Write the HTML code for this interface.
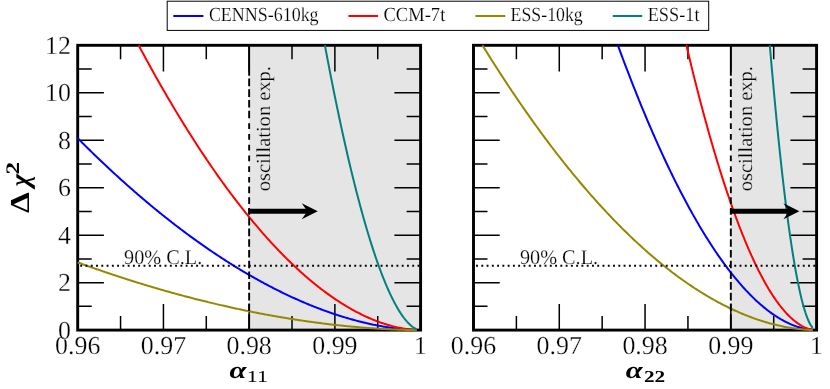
<!DOCTYPE html>
<html><head><meta charset="utf-8"><title>plot</title>
<style>html,body{margin:0;padding:0;background:#fff}svg{display:block;will-change:transform;opacity:0.999}text{text-rendering:geometricPrecision}.t{stroke:#fff;stroke-width:.28px}.ts{stroke:#fff;stroke-width:.2px}.tg{stroke:#e5e5e5;stroke-width:.2px}</style></head>
<body>
<svg width="830" height="389" viewBox="0 0 830 389" font-family="'Liberation Serif', serif" fill="#000">
<rect width="830" height="389" fill="#fff"/>
<rect x="249.15" y="45.30" width="171.45" height="284.80" fill="#e5e5e5"/>
<path d="M77.70,330.10h26.2M420.60,330.10h-26.2M77.70,306.37h14.0M420.60,306.37h-14.0M77.70,282.63h26.2M420.60,282.63h-26.2M77.70,258.90h14.0M420.60,258.90h-14.0M77.70,235.17h26.2M420.60,235.17h-26.2M77.70,211.43h14.0M420.60,211.43h-14.0M77.70,187.70h26.2M420.60,187.70h-26.2M77.70,163.97h14.0M420.60,163.97h-14.0M77.70,140.23h26.2M420.60,140.23h-26.2M77.70,116.50h14.0M420.60,116.50h-14.0M77.70,92.77h26.2M420.60,92.77h-26.2M77.70,69.03h14.0M420.60,69.03h-14.0M77.70,45.30h26.2M420.60,45.30h-26.2M77.70,330.10v-26.2M77.70,45.30v26.2M120.56,330.10v-14.0M120.56,45.30v14.0M163.43,330.10v-26.2M163.43,45.30v26.2M206.29,330.10v-14.0M206.29,45.30v14.0M249.15,330.10v-26.2M249.15,45.30v26.2M292.01,330.10v-14.0M292.01,45.30v14.0M334.88,330.10v-26.2M334.88,45.30v26.2M377.74,330.10v-14.0M377.74,45.30v14.0M420.60,330.10v-26.2M420.60,45.30v26.2" stroke="#000" stroke-width="1.5" fill="none"/>
<rect x="77.70" y="45.30" width="342.90" height="284.80" fill="none" stroke="#000" stroke-width="2.9"/>
<path d="M77.70,138.22 L78.76,139.29 L79.82,140.35 L80.88,141.41 L81.94,142.47 L83.00,143.52 L84.06,144.57 L85.12,145.62 L86.18,146.66 L87.24,147.71 L88.30,148.75 L89.35,149.79 L90.41,150.82 L91.47,151.85 L92.53,152.89 L93.59,153.91 L94.65,154.94 L95.71,155.96 L96.77,156.98 L97.83,158.00 L98.89,159.01 L99.95,160.02 L101.01,161.03 L102.07,162.04 L103.13,163.04 L104.19,164.04 L105.25,165.04 L106.31,166.03 L107.37,167.03 L108.43,168.02 L109.49,169.00 L110.54,169.99 L111.60,170.97 L112.66,171.95 L113.72,172.93 L114.78,173.90 L115.84,174.87 L116.90,175.84 L117.96,176.81 L119.02,177.77 L120.08,178.73 L121.14,179.69 L122.20,180.64 L123.26,181.60 L124.32,182.55 L125.38,183.49 L126.44,184.44 L127.50,185.38 L128.56,186.32 L129.62,187.26 L130.68,188.19 L131.73,189.12 L132.79,190.05 L133.85,190.97 L134.91,191.90 L135.97,192.82 L137.03,193.73 L138.09,194.65 L139.15,195.56 L140.21,196.47 L141.27,197.37 L142.33,198.28 L143.39,199.18 L144.45,200.08 L145.51,200.97 L146.57,201.87 L147.63,202.76 L148.69,203.64 L149.75,204.53 L150.81,205.41 L151.87,206.29 L152.93,207.16 L153.98,208.04 L155.04,208.91 L156.10,209.77 L157.16,210.64 L158.22,211.50 L159.28,212.36 L160.34,213.22 L161.40,214.07 L162.46,214.92 L163.52,215.77 L164.58,216.62 L165.64,217.46 L166.70,218.30 L167.76,219.14 L168.82,219.97 L169.88,220.80 L170.94,221.63 L172.00,222.46 L173.06,223.28 L174.12,224.10 L175.17,224.92 L176.23,225.73 L177.29,226.55 L178.35,227.35 L179.41,228.16 L180.47,228.96 L181.53,229.77 L182.59,230.56 L183.65,231.36 L184.71,232.15 L185.77,232.94 L186.83,233.73 L187.89,234.51 L188.95,235.29 L190.01,236.07 L191.07,236.84 L192.13,237.62 L193.19,238.39 L194.25,239.15 L195.31,239.92 L196.36,240.68 L197.42,241.44 L198.48,242.19 L199.54,242.94 L200.60,243.69 L201.66,244.44 L202.72,245.18 L203.78,245.92 L204.84,246.66 L205.90,247.40 L206.96,248.13 L208.02,248.86 L209.08,249.58 L210.14,250.31 L211.20,251.03 L212.26,251.75 L213.32,252.46 L214.38,253.17 L215.44,253.88 L216.50,254.59 L217.55,255.29 L218.61,255.99 L219.67,256.69 L220.73,257.38 L221.79,258.07 L222.85,258.76 L223.91,259.45 L224.97,260.13 L226.03,260.81 L227.09,261.49 L228.15,262.16 L229.21,262.83 L230.27,263.50 L231.33,264.16 L232.39,264.83 L233.45,265.49 L234.51,266.14 L235.57,266.79 L236.63,267.44 L237.69,268.09 L238.75,268.74 L239.80,269.38 L240.86,270.02 L241.92,270.65 L242.98,271.28 L244.04,271.91 L245.10,272.54 L246.16,273.16 L247.22,273.78 L248.28,274.40 L249.34,275.01 L250.40,275.62 L251.46,276.23 L252.52,276.84 L253.58,277.44 L254.64,278.04 L255.70,278.63 L256.76,279.23 L257.82,279.82 L258.88,280.40 L259.94,280.99 L260.99,281.57 L262.05,282.14 L263.11,282.72 L264.17,283.29 L265.23,283.86 L266.29,284.42 L267.35,284.99 L268.41,285.55 L269.47,286.10 L270.53,286.65 L271.59,287.20 L272.65,287.75 L273.71,288.29 L274.77,288.84 L275.83,289.37 L276.89,289.91 L277.95,290.44 L279.01,290.97 L280.07,291.49 L281.13,292.01 L282.18,292.53 L283.24,293.05 L284.30,293.56 L285.36,294.07 L286.42,294.57 L287.48,295.08 L288.54,295.58 L289.60,296.07 L290.66,296.56 L291.72,297.05 L292.78,297.54 L293.84,298.02 L294.90,298.50 L295.96,298.98 L297.02,299.46 L298.08,299.93 L299.14,300.39 L300.20,300.86 L301.26,301.32 L302.32,301.78 L303.38,302.23 L304.43,302.68 L305.49,303.13 L306.55,303.57 L307.61,304.02 L308.67,304.45 L309.73,304.89 L310.79,305.32 L311.85,305.75 L312.91,306.17 L313.97,306.59 L315.03,307.01 L316.09,307.43 L317.15,307.84 L318.21,308.25 L319.27,308.65 L320.33,309.05 L321.39,309.45 L322.45,309.85 L323.51,310.24 L324.57,310.63 L325.62,311.01 L326.68,311.39 L327.74,311.77 L328.80,312.14 L329.86,312.51 L330.92,312.88 L331.98,313.24 L333.04,313.61 L334.10,313.96 L335.16,314.32 L336.22,314.67 L337.28,315.01 L338.34,315.36 L339.40,315.70 L340.46,316.03 L341.52,316.36 L342.58,316.69 L343.64,317.02 L344.70,317.34 L345.76,317.66 L346.81,317.97 L347.87,318.28 L348.93,318.59 L349.99,318.90 L351.05,319.20 L352.11,319.49 L353.17,319.79 L354.23,320.08 L355.29,320.36 L356.35,320.64 L357.41,320.92 L358.47,321.20 L359.53,321.47 L360.59,321.74 L361.65,322.00 L362.71,322.26 L363.77,322.52 L364.83,322.77 L365.89,323.02 L366.95,323.26 L368.01,323.50 L369.06,323.74 L370.12,323.97 L371.18,324.20 L372.24,324.43 L373.30,324.65 L374.36,324.87 L375.42,325.08 L376.48,325.29 L377.54,325.49 L378.60,325.70 L379.66,325.89 L380.72,326.09 L381.78,326.28 L382.84,326.46 L383.90,326.64 L384.96,326.82 L386.02,326.99 L387.08,327.16 L388.14,327.33 L389.20,327.49 L390.25,327.64 L391.31,327.80 L392.37,327.94 L393.43,328.09 L394.49,328.23 L395.55,328.36 L396.61,328.49 L397.67,328.62 L398.73,328.74 L399.79,328.85 L400.85,328.97 L401.91,329.07 L402.97,329.17 L404.03,329.27 L405.09,329.36 L406.15,329.45 L407.21,329.54 L408.27,329.61 L409.33,329.69 L410.39,329.75 L411.44,329.82 L412.50,329.87 L413.56,329.92 L414.62,329.97 L415.68,330.01 L416.74,330.04" stroke="#0000ff" stroke-width="2" fill="none" stroke-linejoin="round"/>
<path d="M138.67,45.30 L139.15,46.21 L140.21,48.19 L141.27,50.17 L142.33,52.14 L143.39,54.10 L144.45,56.06 L145.51,58.01 L146.57,59.95 L147.63,61.89 L148.69,63.82 L149.75,65.74 L150.81,67.66 L151.87,69.57 L152.93,71.47 L153.98,73.37 L155.04,75.26 L156.10,77.15 L157.16,79.03 L158.22,80.90 L159.28,82.77 L160.34,84.63 L161.40,86.48 L162.46,88.33 L163.52,90.17 L164.58,92.00 L165.64,93.83 L166.70,95.65 L167.76,97.46 L168.82,99.27 L169.88,101.07 L170.94,102.86 L172.00,104.65 L173.06,106.43 L174.12,108.21 L175.17,109.98 L176.23,111.74 L177.29,113.49 L178.35,115.24 L179.41,116.99 L180.47,118.72 L181.53,120.45 L182.59,122.17 L183.65,123.89 L184.71,125.60 L185.77,127.30 L186.83,129.00 L187.89,130.69 L188.95,132.37 L190.01,134.05 L191.07,135.72 L192.13,137.38 L193.19,139.04 L194.25,140.69 L195.31,142.33 L196.36,143.97 L197.42,145.60 L198.48,147.22 L199.54,148.84 L200.60,150.45 L201.66,152.05 L202.72,153.65 L203.78,155.24 L204.84,156.82 L205.90,158.40 L206.96,159.97 L208.02,161.54 L209.08,163.09 L210.14,164.64 L211.20,166.19 L212.26,167.72 L213.32,169.26 L214.38,170.78 L215.44,172.30 L216.50,173.81 L217.55,175.31 L218.61,176.81 L219.67,178.30 L220.73,179.78 L221.79,181.26 L222.85,182.73 L223.91,184.19 L224.97,185.65 L226.03,187.10 L227.09,188.54 L228.15,189.98 L229.21,191.41 L230.27,192.83 L231.33,194.25 L232.39,195.65 L233.45,197.06 L234.51,198.45 L235.57,199.84 L236.63,201.22 L237.69,202.60 L238.75,203.97 L239.80,205.33 L240.86,206.68 L241.92,208.03 L242.98,209.37 L244.04,210.71 L245.10,212.03 L246.16,213.35 L247.22,214.67 L248.28,215.98 L249.34,217.28 L250.40,218.57 L251.46,219.85 L252.52,221.13 L253.58,222.41 L254.64,223.67 L255.70,224.93 L256.76,226.18 L257.82,227.43 L258.88,228.66 L259.94,229.90 L260.99,231.12 L262.05,232.34 L263.11,233.55 L264.17,234.75 L265.23,235.95 L266.29,237.14 L267.35,238.32 L268.41,239.49 L269.47,240.66 L270.53,241.82 L271.59,242.98 L272.65,244.12 L273.71,245.26 L274.77,246.40 L275.83,247.52 L276.89,248.64 L277.95,249.75 L279.01,250.86 L280.07,251.96 L281.13,253.05 L282.18,254.13 L283.24,255.21 L284.30,256.28 L285.36,257.34 L286.42,258.39 L287.48,259.44 L288.54,260.48 L289.60,261.52 L290.66,262.54 L291.72,263.56 L292.78,264.58 L293.84,265.58 L294.90,266.58 L295.96,267.57 L297.02,268.55 L298.08,269.53 L299.14,270.50 L300.20,271.46 L301.26,272.42 L302.32,273.36 L303.38,274.31 L304.43,275.24 L305.49,276.16 L306.55,277.08 L307.61,277.99 L308.67,278.90 L309.73,279.79 L310.79,280.68 L311.85,281.57 L312.91,282.44 L313.97,283.31 L315.03,284.17 L316.09,285.02 L317.15,285.87 L318.21,286.70 L319.27,287.53 L320.33,288.36 L321.39,289.17 L322.45,289.98 L323.51,290.78 L324.57,291.57 L325.62,292.36 L326.68,293.14 L327.74,293.91 L328.80,294.67 L329.86,295.43 L330.92,296.18 L331.98,296.92 L333.04,297.65 L334.10,298.38 L335.16,299.09 L336.22,299.80 L337.28,300.51 L338.34,301.20 L339.40,301.89 L340.46,302.57 L341.52,303.24 L342.58,303.91 L343.64,304.56 L344.70,305.21 L345.76,305.85 L346.81,306.49 L347.87,307.11 L348.93,307.73 L349.99,308.34 L351.05,308.94 L352.11,309.54 L353.17,310.13 L354.23,310.71 L355.29,311.28 L356.35,311.84 L357.41,312.40 L358.47,312.94 L359.53,313.48 L360.59,314.01 L361.65,314.54 L362.71,315.05 L363.77,315.56 L364.83,316.06 L365.89,316.55 L366.95,317.03 L368.01,317.51 L369.06,317.98 L370.12,318.44 L371.18,318.89 L372.24,319.33 L373.30,319.76 L374.36,320.19 L375.42,320.61 L376.48,321.02 L377.54,321.42 L378.60,321.81 L379.66,322.19 L380.72,322.57 L381.78,322.94 L382.84,323.30 L383.90,323.65 L384.96,323.99 L386.02,324.32 L387.08,324.65 L388.14,324.96 L389.20,325.27 L390.25,325.57 L391.31,325.86 L392.37,326.14 L393.43,326.41 L394.49,326.67 L395.55,326.93 L396.61,327.17 L397.67,327.41 L398.73,327.63 L399.79,327.85 L400.85,328.06 L401.91,328.26 L402.97,328.45 L404.03,328.63 L405.09,328.80 L406.15,328.96 L407.21,329.11 L408.27,329.25 L409.33,329.38 L410.39,329.50 L411.44,329.61 L412.50,329.71 L413.56,329.80 L414.62,329.88 L415.68,329.95 L416.74,330.00" stroke="#ff0000" stroke-width="2" fill="none" stroke-linejoin="round"/>
<path d="M77.70,262.41 L78.76,262.79 L79.82,263.18 L80.88,263.56 L81.94,263.94 L83.00,264.32 L84.06,264.70 L85.12,265.08 L86.18,265.46 L87.24,265.84 L88.30,266.22 L89.35,266.59 L90.41,266.97 L91.47,267.34 L92.53,267.71 L93.59,268.09 L94.65,268.46 L95.71,268.83 L96.77,269.19 L97.83,269.56 L98.89,269.93 L99.95,270.29 L101.01,270.66 L102.07,271.02 L103.13,271.38 L104.19,271.74 L105.25,272.10 L106.31,272.46 L107.37,272.82 L108.43,273.18 L109.49,273.54 L110.54,273.89 L111.60,274.25 L112.66,274.60 L113.72,274.95 L114.78,275.30 L115.84,275.65 L116.90,276.00 L117.96,276.35 L119.02,276.70 L120.08,277.04 L121.14,277.39 L122.20,277.73 L123.26,278.07 L124.32,278.42 L125.38,278.76 L126.44,279.10 L127.50,279.43 L128.56,279.77 L129.62,280.11 L130.68,280.44 L131.73,280.78 L132.79,281.11 L133.85,281.44 L134.91,281.78 L135.97,282.11 L137.03,282.44 L138.09,282.76 L139.15,283.09 L140.21,283.42 L141.27,283.74 L142.33,284.07 L143.39,284.39 L144.45,284.71 L145.51,285.03 L146.57,285.35 L147.63,285.67 L148.69,285.99 L149.75,286.31 L150.81,286.62 L151.87,286.94 L152.93,287.25 L153.98,287.56 L155.04,287.88 L156.10,288.19 L157.16,288.50 L158.22,288.80 L159.28,289.11 L160.34,289.42 L161.40,289.72 L162.46,290.03 L163.52,290.33 L164.58,290.63 L165.64,290.93 L166.70,291.23 L167.76,291.53 L168.82,291.83 L169.88,292.13 L170.94,292.42 L172.00,292.72 L173.06,293.01 L174.12,293.30 L175.17,293.60 L176.23,293.89 L177.29,294.18 L178.35,294.46 L179.41,294.75 L180.47,295.04 L181.53,295.32 L182.59,295.61 L183.65,295.89 L184.71,296.17 L185.77,296.45 L186.83,296.73 L187.89,297.01 L188.95,297.29 L190.01,297.57 L191.07,297.84 L192.13,298.12 L193.19,298.39 L194.25,298.66 L195.31,298.93 L196.36,299.20 L197.42,299.47 L198.48,299.74 L199.54,300.01 L200.60,300.27 L201.66,300.54 L202.72,300.80 L203.78,301.06 L204.84,301.32 L205.90,301.59 L206.96,301.84 L208.02,302.10 L209.08,302.36 L210.14,302.62 L211.20,302.87 L212.26,303.12 L213.32,303.38 L214.38,303.63 L215.44,303.88 L216.50,304.13 L217.55,304.38 L218.61,304.62 L219.67,304.87 L220.73,305.12 L221.79,305.36 L222.85,305.60 L223.91,305.84 L224.97,306.09 L226.03,306.33 L227.09,306.56 L228.15,306.80 L229.21,307.04 L230.27,307.27 L231.33,307.51 L232.39,307.74 L233.45,307.97 L234.51,308.20 L235.57,308.43 L236.63,308.66 L237.69,308.89 L238.75,309.11 L239.80,309.34 L240.86,309.56 L241.92,309.79 L242.98,310.01 L244.04,310.23 L245.10,310.45 L246.16,310.67 L247.22,310.88 L248.28,311.10 L249.34,311.32 L250.40,311.53 L251.46,311.74 L252.52,311.96 L253.58,312.17 L254.64,312.38 L255.70,312.58 L256.76,312.79 L257.82,313.00 L258.88,313.20 L259.94,313.41 L260.99,313.61 L262.05,313.81 L263.11,314.01 L264.17,314.21 L265.23,314.41 L266.29,314.61 L267.35,314.80 L268.41,315.00 L269.47,315.19 L270.53,315.38 L271.59,315.57 L272.65,315.76 L273.71,315.95 L274.77,316.14 L275.83,316.33 L276.89,316.51 L277.95,316.70 L279.01,316.88 L280.07,317.06 L281.13,317.24 L282.18,317.42 L283.24,317.60 L284.30,317.78 L285.36,317.96 L286.42,318.13 L287.48,318.30 L288.54,318.48 L289.60,318.65 L290.66,318.82 L291.72,318.99 L292.78,319.16 L293.84,319.32 L294.90,319.49 L295.96,319.65 L297.02,319.82 L298.08,319.98 L299.14,320.14 L300.20,320.30 L301.26,320.46 L302.32,320.62 L303.38,320.77 L304.43,320.93 L305.49,321.08 L306.55,321.23 L307.61,321.39 L308.67,321.54 L309.73,321.69 L310.79,321.83 L311.85,321.98 L312.91,322.13 L313.97,322.27 L315.03,322.41 L316.09,322.55 L317.15,322.70 L318.21,322.83 L319.27,322.97 L320.33,323.11 L321.39,323.25 L322.45,323.38 L323.51,323.51 L324.57,323.65 L325.62,323.78 L326.68,323.91 L327.74,324.03 L328.80,324.16 L329.86,324.29 L330.92,324.41 L331.98,324.54 L333.04,324.66 L334.10,324.78 L335.16,324.90 L336.22,325.02 L337.28,325.13 L338.34,325.25 L339.40,325.37 L340.46,325.48 L341.52,325.59 L342.58,325.70 L343.64,325.81 L344.70,325.92 L345.76,326.03 L346.81,326.13 L347.87,326.24 L348.93,326.34 L349.99,326.44 L351.05,326.54 L352.11,326.64 L353.17,326.74 L354.23,326.84 L355.29,326.93 L356.35,327.03 L357.41,327.12 L358.47,327.21 L359.53,327.30 L360.59,327.39 L361.65,327.48 L362.71,327.57 L363.77,327.65 L364.83,327.73 L365.89,327.82 L366.95,327.90 L368.01,327.98 L369.06,328.06 L370.12,328.13 L371.18,328.21 L372.24,328.28 L373.30,328.35 L374.36,328.43 L375.42,328.50 L376.48,328.57 L377.54,328.63 L378.60,328.70 L379.66,328.76 L380.72,328.83 L381.78,328.89 L382.84,328.95 L383.90,329.01 L384.96,329.06 L386.02,329.12 L387.08,329.18 L388.14,329.23 L389.20,329.28 L390.25,329.33 L391.31,329.38 L392.37,329.43 L393.43,329.47 L394.49,329.52 L395.55,329.56 L396.61,329.60 L397.67,329.64 L398.73,329.68 L399.79,329.72 L400.85,329.75 L401.91,329.79 L402.97,329.82 L404.03,329.85 L405.09,329.88 L406.15,329.90 L407.21,329.93 L408.27,329.95 L409.33,329.98 L410.39,330.00 L411.44,330.02 L412.50,330.03 L413.56,330.05 L414.62,330.06 L415.68,330.07 L416.74,330.08" stroke="#968700" stroke-width="2" fill="none" stroke-linejoin="round"/>
<path d="M324.90,45.30 L325.62,49.17 L326.68,54.79 L327.74,60.36 L328.80,65.88 L329.86,71.35 L330.92,76.77 L331.98,82.13 L333.04,87.45 L334.10,92.71 L335.16,97.93 L336.22,103.09 L337.28,108.20 L338.34,113.26 L339.40,118.26 L340.46,123.22 L341.52,128.12 L342.58,132.97 L343.64,137.77 L344.70,142.51 L345.76,147.20 L346.81,151.84 L347.87,156.43 L348.93,160.96 L349.99,165.44 L351.05,169.86 L352.11,174.23 L353.17,178.55 L354.23,182.82 L355.29,187.02 L356.35,191.18 L357.41,195.28 L358.47,199.33 L359.53,203.32 L360.59,207.25 L361.65,211.13 L362.71,214.96 L363.77,218.73 L364.83,222.44 L365.89,226.10 L366.95,229.70 L368.01,233.24 L369.06,236.73 L370.12,240.16 L371.18,243.53 L372.24,246.85 L373.30,250.10 L374.36,253.30 L375.42,256.45 L376.48,259.53 L377.54,262.55 L378.60,265.52 L379.66,268.42 L380.72,271.27 L381.78,274.06 L382.84,276.78 L383.90,279.45 L384.96,282.05 L386.02,284.59 L387.08,287.07 L388.14,289.49 L389.20,291.85 L390.25,294.14 L391.31,296.37 L392.37,298.54 L393.43,300.64 L394.49,302.68 L395.55,304.65 L396.61,306.56 L397.67,308.40 L398.73,310.17 L399.79,311.88 L400.85,313.52 L401.91,315.08 L402.97,316.58 L404.03,318.01 L405.09,319.37 L406.15,320.65 L407.21,321.86 L408.27,323.00 L409.33,324.06 L410.39,325.04 L411.44,325.95 L412.50,326.77 L413.56,327.52 L414.62,328.18 L415.68,328.75 L416.74,329.23" stroke="#008080" stroke-width="2" fill="none" stroke-linejoin="round"/>
<path d="M249.15,45.30V75.80M249.15,78.50V86.20M249.15,89.21V96.91M249.15,99.92V107.62M249.15,110.63V118.33M249.15,123.34V129.04M249.15,134.05V139.75M249.15,144.76V150.46M249.15,155.47V161.17M249.15,166.18V171.88M249.15,176.89V182.59M249.15,186.60V193.30M249.15,197.31V204.01M249.15,208.02V214.72M249.15,217.83V225.43M249.15,228.54V236.14M249.15,239.25V246.85M249.15,249.96V257.56M249.15,260.67V268.27M249.15,271.38V278.98M249.15,282.09V289.69M249.15,292.80V300.40M249.15,303.51V311.11M249.15,314.30V330.10" stroke="#000" stroke-width="1.9" fill="none"/>
<path d="M80.25,265.78H420.60" stroke="#000" stroke-width="1.9" stroke-dasharray="1.9 3.37" fill="none"/>
<path d="M248.25,211.35H309.75" stroke="#000" stroke-width="5" fill="none"/>
<path d="M317.75,211.35 L301.75,203.35 L307.35,211.35 L301.75,219.35Z" fill="#000"/>
<text class="ts" x="124.10" y="264.2" font-size="20.8" textLength="78.2" lengthAdjust="spacingAndGlyphs">90% C.L.</text>
<text class="tg" transform="translate(270.25,191.3) rotate(-90)" font-size="20" textLength="125.3" lengthAdjust="spacingAndGlyphs">oscillation exp.</text>
<text class="t" x="77.70" y="353.8" font-size="25.9" text-anchor="middle">0.96</text>
<text class="t" x="163.43" y="353.8" font-size="25.9" text-anchor="middle">0.97</text>
<text class="t" x="249.15" y="353.8" font-size="25.9" text-anchor="middle">0.98</text>
<text class="t" x="334.88" y="353.8" font-size="25.9" text-anchor="middle">0.99</text>
<text class="t" x="420.60" y="353.8" font-size="25.9" text-anchor="middle">1</text>
<text class="t" x="70.9" y="338.65" font-size="25.9" text-anchor="end">0</text>
<text class="t" x="70.9" y="291.18" font-size="25.9" text-anchor="end">2</text>
<text class="t" x="70.9" y="243.72" font-size="25.9" text-anchor="end">4</text>
<text class="t" x="70.9" y="196.25" font-size="25.9" text-anchor="end">6</text>
<text class="t" x="70.9" y="148.78" font-size="25.9" text-anchor="end">8</text>
<text class="t" x="70.9" y="101.32" font-size="25.9" text-anchor="end">10</text>
<text class="t" x="70.9" y="53.85" font-size="25.9" text-anchor="end">12</text>
<rect x="730.83" y="45.30" width="85.77" height="284.80" fill="#e5e5e5"/>
<path d="M473.50,330.10h26.2M816.60,330.10h-26.2M473.50,306.37h14.0M816.60,306.37h-14.0M473.50,282.63h26.2M816.60,282.63h-26.2M473.50,258.90h14.0M816.60,258.90h-14.0M473.50,235.17h26.2M816.60,235.17h-26.2M473.50,211.43h14.0M816.60,211.43h-14.0M473.50,187.70h26.2M816.60,187.70h-26.2M473.50,163.97h14.0M816.60,163.97h-14.0M473.50,140.23h26.2M816.60,140.23h-26.2M473.50,116.50h14.0M816.60,116.50h-14.0M473.50,92.77h26.2M816.60,92.77h-26.2M473.50,69.03h14.0M816.60,69.03h-14.0M473.50,45.30h26.2M816.60,45.30h-26.2M473.50,330.10v-26.2M473.50,45.30v26.2M516.39,330.10v-14.0M516.39,45.30v14.0M559.28,330.10v-26.2M559.28,45.30v26.2M602.16,330.10v-14.0M602.16,45.30v14.0M645.05,330.10v-26.2M645.05,45.30v26.2M687.94,330.10v-14.0M687.94,45.30v14.0M730.83,330.10v-26.2M730.83,45.30v26.2M773.71,330.10v-14.0M773.71,45.30v14.0M816.60,330.10v-26.2M816.60,45.30v26.2" stroke="#000" stroke-width="1.5" fill="none"/>
<rect x="473.50" y="45.30" width="343.10" height="284.80" fill="none" stroke="#000" stroke-width="2.9"/>
<path d="M617.89,45.30 L618.74,47.60 L619.80,50.47 L620.86,53.33 L621.92,56.18 L622.98,59.01 L624.04,61.83 L625.10,64.63 L626.16,67.42 L627.22,70.20 L628.28,72.96 L629.34,75.71 L630.40,78.44 L631.46,81.16 L632.52,83.87 L633.58,86.56 L634.64,89.24 L635.70,91.90 L636.76,94.55 L637.82,97.18 L638.88,99.81 L639.94,102.41 L641.00,105.01 L642.06,107.59 L643.12,110.15 L644.18,112.70 L645.24,115.24 L646.30,117.76 L647.36,120.27 L648.42,122.76 L649.48,125.24 L650.54,127.71 L651.60,130.16 L652.66,132.60 L653.72,135.02 L654.78,137.43 L655.84,139.83 L656.90,142.21 L657.96,144.57 L659.02,146.93 L660.08,149.26 L661.14,151.59 L662.20,153.90 L663.26,156.19 L664.32,158.47 L665.38,160.74 L666.44,162.99 L667.50,165.23 L668.56,167.46 L669.62,169.66 L670.68,171.86 L671.74,174.04 L672.80,176.21 L673.86,178.36 L674.92,180.50 L675.98,182.62 L677.04,184.73 L678.10,186.82 L679.16,188.90 L680.22,190.97 L681.28,193.02 L682.34,195.06 L683.40,197.08 L684.46,199.09 L685.53,201.08 L686.59,203.06 L687.65,205.02 L688.71,206.97 L689.77,208.91 L690.83,210.83 L691.89,212.73 L692.95,214.62 L694.01,216.50 L695.07,218.36 L696.13,220.21 L697.19,222.04 L698.25,223.86 L699.31,225.67 L700.37,227.45 L701.43,229.23 L702.49,230.99 L703.55,232.73 L704.61,234.46 L705.67,236.18 L706.73,237.88 L707.79,239.57 L708.85,241.24 L709.91,242.89 L710.97,244.54 L712.03,246.16 L713.09,247.77 L714.15,249.37 L715.21,250.95 L716.27,252.52 L717.33,254.07 L718.39,255.61 L719.45,257.13 L720.51,258.64 L721.57,260.13 L722.63,261.61 L723.69,263.08 L724.75,264.52 L725.81,265.96 L726.87,267.37 L727.93,268.78 L728.99,270.17 L730.05,271.54 L731.11,272.90 L732.17,274.24 L733.23,275.57 L734.29,276.88 L735.35,278.17 L736.41,279.46 L737.47,280.72 L738.53,281.97 L739.59,283.21 L740.65,284.43 L741.71,285.64 L742.77,286.83 L743.83,288.00 L744.89,289.16 L745.95,290.31 L747.01,291.43 L748.07,292.55 L749.13,293.64 L750.19,294.73 L751.25,295.79 L752.31,296.85 L753.37,297.88 L754.43,298.90 L755.49,299.91 L756.55,300.90 L757.61,301.87 L758.67,302.83 L759.73,303.77 L760.79,304.70 L761.85,305.61 L762.91,306.50 L763.97,307.38 L765.03,308.24 L766.09,309.09 L767.15,309.92 L768.21,310.74 L769.27,311.54 L770.34,312.32 L771.40,313.09 L772.46,313.84 L773.52,314.57 L774.58,315.29 L775.64,315.99 L776.70,316.68 L777.76,317.35 L778.82,318.01 L779.88,318.64 L780.94,319.26 L782.00,319.87 L783.06,320.46 L784.12,321.03 L785.18,321.58 L786.24,322.12 L787.30,322.64 L788.36,323.15 L789.42,323.64 L790.48,324.11 L791.54,324.56 L792.60,325.00 L793.66,325.42 L794.72,325.82 L795.78,326.21 L796.84,326.58 L797.90,326.93 L798.96,327.26 L800.02,327.58 L801.08,327.88 L802.14,328.16 L803.20,328.42 L804.26,328.66 L805.32,328.89 L806.38,329.10 L807.44,329.28 L808.50,329.45 L809.56,329.61 L810.62,329.74 L811.68,329.85 L812.74,329.94" stroke="#0000ff" stroke-width="2" fill="none" stroke-linejoin="round"/>
<path d="M686.39,45.30 L686.59,46.14 L687.65,50.61 L688.71,55.03 L689.77,59.43 L690.83,63.79 L691.89,68.12 L692.95,72.41 L694.01,76.66 L695.07,80.89 L696.13,85.08 L697.19,89.23 L698.25,93.35 L699.31,97.44 L700.37,101.49 L701.43,105.51 L702.49,109.49 L703.55,113.44 L704.61,117.35 L705.67,121.23 L706.73,125.07 L707.79,128.88 L708.85,132.66 L709.91,136.40 L710.97,140.11 L712.03,143.78 L713.09,147.42 L714.15,151.02 L715.21,154.59 L716.27,158.12 L717.33,161.62 L718.39,165.08 L719.45,168.51 L720.51,171.91 L721.57,175.27 L722.63,178.59 L723.69,181.88 L724.75,185.13 L725.81,188.35 L726.87,191.54 L727.93,194.69 L728.99,197.80 L730.05,200.88 L731.11,203.93 L732.17,206.94 L733.23,209.91 L734.29,212.85 L735.35,215.76 L736.41,218.62 L737.47,221.46 L738.53,224.26 L739.59,227.02 L740.65,229.75 L741.71,232.44 L742.77,235.10 L743.83,237.72 L744.89,240.31 L745.95,242.86 L747.01,245.37 L748.07,247.85 L749.13,250.30 L750.19,252.70 L751.25,255.08 L752.31,257.41 L753.37,259.71 L754.43,261.98 L755.49,264.21 L756.55,266.40 L757.61,268.56 L758.67,270.68 L759.73,272.77 L760.79,274.82 L761.85,276.83 L762.91,278.81 L763.97,280.75 L765.03,282.66 L766.09,284.53 L767.15,286.36 L768.21,288.16 L769.27,289.91 L770.34,291.64 L771.40,293.33 L772.46,294.98 L773.52,296.59 L774.58,298.17 L775.64,299.71 L776.70,301.21 L777.76,302.68 L778.82,304.11 L779.88,305.50 L780.94,306.85 L782.00,308.17 L783.06,309.45 L784.12,310.70 L785.18,311.90 L786.24,313.07 L787.30,314.20 L788.36,315.30 L789.42,316.35 L790.48,317.37 L791.54,318.35 L792.60,319.30 L793.66,320.20 L794.72,321.07 L795.78,321.89 L796.84,322.68 L797.90,323.43 L798.96,324.14 L800.02,324.82 L801.08,325.45 L802.14,326.05 L803.20,326.60 L804.26,327.12 L805.32,327.59 L806.38,328.03 L807.44,328.42 L808.50,328.78 L809.56,329.09 L810.62,329.37 L811.68,329.60 L812.74,329.79" stroke="#ff0000" stroke-width="2" fill="none" stroke-linejoin="round"/>
<path d="M482.50,45.30 L483.04,46.17 L484.10,47.89 L485.16,49.60 L486.22,51.30 L487.28,53.00 L488.34,54.69 L489.40,56.38 L490.46,58.06 L491.52,59.74 L492.58,61.42 L493.64,63.09 L494.70,64.75 L495.76,66.41 L496.82,68.06 L497.88,69.71 L498.94,71.36 L500.00,73.00 L501.06,74.63 L502.12,76.26 L503.18,77.88 L504.24,79.50 L505.30,81.12 L506.36,82.73 L507.42,84.33 L508.48,85.93 L509.54,87.53 L510.60,89.12 L511.66,90.70 L512.72,92.28 L513.78,93.86 L514.84,95.43 L515.91,96.99 L516.97,98.55 L518.03,100.11 L519.09,101.66 L520.15,103.20 L521.21,104.74 L522.27,106.28 L523.33,107.81 L524.39,109.33 L525.45,110.85 L526.51,112.37 L527.57,113.88 L528.63,115.38 L529.69,116.89 L530.75,118.38 L531.81,119.87 L532.87,121.36 L533.93,122.84 L534.99,124.31 L536.05,125.78 L537.11,127.25 L538.17,128.71 L539.23,130.16 L540.29,131.61 L541.35,133.06 L542.41,134.50 L543.47,135.94 L544.53,137.37 L545.59,138.79 L546.65,140.21 L547.71,141.63 L548.77,143.04 L549.83,144.44 L550.89,145.84 L551.95,147.24 L553.01,148.63 L554.07,150.01 L555.13,151.39 L556.19,152.77 L557.25,154.14 L558.31,155.50 L559.37,156.86 L560.43,158.22 L561.49,159.57 L562.55,160.91 L563.61,162.25 L564.67,163.59 L565.73,164.92 L566.79,166.24 L567.85,167.56 L568.91,168.88 L569.97,170.19 L571.03,171.49 L572.09,172.79 L573.15,174.08 L574.21,175.37 L575.27,176.66 L576.33,177.94 L577.39,179.21 L578.45,180.48 L579.51,181.74 L580.57,183.00 L581.63,184.25 L582.69,185.50 L583.75,186.75 L584.81,187.99 L585.87,189.22 L586.93,190.45 L587.99,191.67 L589.05,192.89 L590.11,194.10 L591.17,195.31 L592.23,196.51 L593.29,197.71 L594.35,198.90 L595.41,200.09 L596.47,201.27 L597.53,202.45 L598.59,203.62 L599.65,204.79 L600.72,205.95 L601.78,207.10 L602.84,208.26 L603.90,209.40 L604.96,210.54 L606.02,211.68 L607.08,212.81 L608.14,213.94 L609.20,215.06 L610.26,216.17 L611.32,217.28 L612.38,218.39 L613.44,219.49 L614.50,220.58 L615.56,221.67 L616.62,222.76 L617.68,223.84 L618.74,224.91 L619.80,225.98 L620.86,227.04 L621.92,228.10 L622.98,229.16 L624.04,230.20 L625.10,231.25 L626.16,232.28 L627.22,233.32 L628.28,234.34 L629.34,235.37 L630.40,236.38 L631.46,237.40 L632.52,238.40 L633.58,239.40 L634.64,240.40 L635.70,241.39 L636.76,242.38 L637.82,243.36 L638.88,244.33 L639.94,245.30 L641.00,246.27 L642.06,247.23 L643.12,248.18 L644.18,249.13 L645.24,250.07 L646.30,251.01 L647.36,251.95 L648.42,252.88 L649.48,253.80 L650.54,254.72 L651.60,255.63 L652.66,256.54 L653.72,257.44 L654.78,258.33 L655.84,259.22 L656.90,260.11 L657.96,260.99 L659.02,261.87 L660.08,262.74 L661.14,263.60 L662.20,264.46 L663.26,265.32 L664.32,266.16 L665.38,267.01 L666.44,267.85 L667.50,268.68 L668.56,269.51 L669.62,270.33 L670.68,271.15 L671.74,271.96 L672.80,272.76 L673.86,273.57 L674.92,274.36 L675.98,275.15 L677.04,275.94 L678.10,276.72 L679.16,277.49 L680.22,278.26 L681.28,279.02 L682.34,279.78 L683.40,280.53 L684.46,281.28 L685.53,282.02 L686.59,282.76 L687.65,283.49 L688.71,284.22 L689.77,284.94 L690.83,285.65 L691.89,286.36 L692.95,287.07 L694.01,287.76 L695.07,288.46 L696.13,289.15 L697.19,289.83 L698.25,290.51 L699.31,291.18 L700.37,291.84 L701.43,292.50 L702.49,293.16 L703.55,293.81 L704.61,294.45 L705.67,295.09 L706.73,295.73 L707.79,296.35 L708.85,296.98 L709.91,297.59 L710.97,298.20 L712.03,298.81 L713.09,299.41 L714.15,300.00 L715.21,300.59 L716.27,301.18 L717.33,301.76 L718.39,302.33 L719.45,302.90 L720.51,303.46 L721.57,304.01 L722.63,304.56 L723.69,305.11 L724.75,305.65 L725.81,306.18 L726.87,306.71 L727.93,307.23 L728.99,307.75 L730.05,308.26 L731.11,308.77 L732.17,309.27 L733.23,309.76 L734.29,310.25 L735.35,310.73 L736.41,311.21 L737.47,311.68 L738.53,312.15 L739.59,312.61 L740.65,313.07 L741.71,313.51 L742.77,313.96 L743.83,314.40 L744.89,314.83 L745.95,315.25 L747.01,315.68 L748.07,316.09 L749.13,316.50 L750.19,316.90 L751.25,317.30 L752.31,317.69 L753.37,318.08 L754.43,318.46 L755.49,318.83 L756.55,319.20 L757.61,319.57 L758.67,319.92 L759.73,320.27 L760.79,320.62 L761.85,320.96 L762.91,321.29 L763.97,321.62 L765.03,321.94 L766.09,322.26 L767.15,322.57 L768.21,322.87 L769.27,323.17 L770.34,323.46 L771.40,323.75 L772.46,324.03 L773.52,324.30 L774.58,324.57 L775.64,324.83 L776.70,325.09 L777.76,325.34 L778.82,325.58 L779.88,325.82 L780.94,326.05 L782.00,326.28 L783.06,326.50 L784.12,326.71 L785.18,326.92 L786.24,327.12 L787.30,327.31 L788.36,327.50 L789.42,327.69 L790.48,327.86 L791.54,328.03 L792.60,328.19 L793.66,328.35 L794.72,328.50 L795.78,328.65 L796.84,328.78 L797.90,328.91 L798.96,329.04 L800.02,329.16 L801.08,329.27 L802.14,329.37 L803.20,329.47 L804.26,329.56 L805.32,329.65 L806.38,329.72 L807.44,329.79 L808.50,329.86 L809.56,329.91 L810.62,329.96 L811.68,330.01 L812.74,330.04" stroke="#968700" stroke-width="2" fill="none" stroke-linejoin="round"/>
<path d="M769.83,45.30 L770.34,51.32 L771.40,63.63 L772.46,75.68 L773.52,87.45 L774.58,98.94 L775.64,110.17 L776.70,121.12 L777.76,131.80 L778.82,142.21 L779.88,152.35 L780.94,162.21 L782.00,171.80 L783.06,181.11 L784.12,190.15 L785.18,198.91 L786.24,207.39 L787.30,215.60 L788.36,223.54 L789.42,231.19 L790.48,238.57 L791.54,245.67 L792.60,252.49 L793.66,259.03 L794.72,265.29 L795.78,271.26 L796.84,276.96 L797.90,282.37 L798.96,287.50 L800.02,292.35 L801.08,296.91 L802.14,301.18 L803.20,305.17 L804.26,308.87 L805.32,312.28 L806.38,315.39 L807.44,318.22 L808.50,320.75 L809.56,322.99 L810.62,324.92 L811.68,326.56 L812.74,327.89" stroke="#008080" stroke-width="2" fill="none" stroke-linejoin="round"/>
<path d="M730.83,45.30V75.80M730.83,78.50V86.20M730.83,89.21V96.91M730.83,99.92V107.62M730.83,110.63V118.33M730.83,123.34V129.04M730.83,134.05V139.75M730.83,144.76V150.46M730.83,155.47V161.17M730.83,166.18V171.88M730.83,176.89V182.59M730.83,186.60V193.30M730.83,197.31V204.01M730.83,208.02V214.72M730.83,217.83V225.43M730.83,228.54V236.14M730.83,239.25V246.85M730.83,249.96V257.56M730.83,260.67V268.27M730.83,271.38V278.98M730.83,282.09V289.69M730.83,292.80V300.40M730.83,303.51V311.11M730.83,314.30V330.10" stroke="#000" stroke-width="1.9" fill="none"/>
<path d="M476.05,265.78H816.60" stroke="#000" stroke-width="1.9" stroke-dasharray="1.9 3.37" fill="none"/>
<path d="M729.93,211.35H791.43" stroke="#000" stroke-width="5" fill="none"/>
<path d="M799.43,211.35 L783.43,203.35 L789.03,211.35 L783.43,219.35Z" fill="#000"/>
<text class="ts" x="519.90" y="264.2" font-size="20.8" textLength="78.2" lengthAdjust="spacingAndGlyphs">90% C.L.</text>
<text class="tg" transform="translate(751.93,191.3) rotate(-90)" font-size="20" textLength="125.3" lengthAdjust="spacingAndGlyphs">oscillation exp.</text>
<text class="t" x="473.50" y="353.8" font-size="25.9" text-anchor="middle">0.96</text>
<text class="t" x="559.28" y="353.8" font-size="25.9" text-anchor="middle">0.97</text>
<text class="t" x="645.05" y="353.8" font-size="25.9" text-anchor="middle">0.98</text>
<text class="t" x="730.83" y="353.8" font-size="25.9" text-anchor="middle">0.99</text>
<text class="t" x="816.60" y="353.8" font-size="25.9" text-anchor="middle">1</text>
<text transform="translate(229.44,377.56) scale(1.286,1)" font-size="23.75" font-weight="bold" font-style="italic">α</text><text transform="translate(246.70,381.6) scale(1.33,1)" font-size="16.64" font-weight="normal">11</text>
<text transform="translate(625.64,377.56) scale(1.286,1)" font-size="23.75" font-weight="bold" font-style="italic">α</text><text transform="translate(643.90,381.6) scale(1.28,1)" font-size="16.64" font-weight="bold">22</text>
<text transform="translate(28.5,213.1) rotate(-90) scale(1.218,1)" font-size="27.33" font-weight="bold">Δ</text>
<text transform="translate(28.5,186.4) rotate(-90) scale(0.975,1)" font-size="27.6" font-weight="bold" font-style="italic">χ</text>
<text transform="translate(19.3,174.5) rotate(-90) scale(1.312,1)" font-size="19.1" font-weight="bold">2</text>
<rect x="167.2" y="1.2" width="541.5" height="29.2" fill="#fff" stroke="#000" stroke-width="1"/>
<path d="M173.3,16H203.4" stroke="#0000ff" stroke-width="2" fill="none"/>
<text class="ts" x="208.9" y="20.9" font-size="20" textLength="109.7" lengthAdjust="spacingAndGlyphs">CENNS-610kg</text>
<path d="M348.4,16H378.1" stroke="#ff0000" stroke-width="2" fill="none"/>
<text class="ts" x="383.4" y="20.9" font-size="20" textLength="61.9" lengthAdjust="spacingAndGlyphs">CCM-7t</text>
<path d="M475.4,16H505.3" stroke="#968700" stroke-width="2" fill="none"/>
<text class="ts" x="510.6" y="20.9" font-size="20" textLength="72.1" lengthAdjust="spacingAndGlyphs">ESS-10kg</text>
<path d="M612.8,16H642.2" stroke="#008080" stroke-width="2" fill="none"/>
<text class="ts" x="647.7" y="20.9" font-size="20" textLength="51.8" lengthAdjust="spacingAndGlyphs">ESS-1t</text>
</svg>
</body></html>
